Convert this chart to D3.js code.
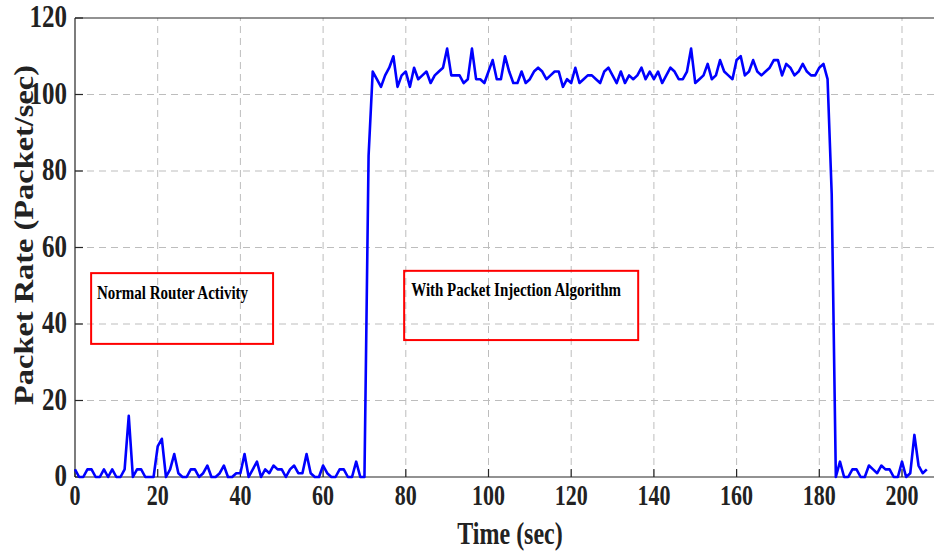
<!DOCTYPE html>
<html><head><meta charset="utf-8">
<script src="https://cdn.jsdelivr.net/npm/d3@7"></script>
<style>body{margin:0;background:#fff} svg{display:block}</style>
</head><body>
<svg id="chart" width="934" height="554"></svg>
<script>
// Packet rate per second (index = time in sec)
const rate = [
  2,0,0,2,2,0,0,2,0,2,
  0,0,2,16,0,2,2,0,0,0,
  8,10,0,2,6,1,0,0,2,2,
  0,1,3,0,0,1,3,0,0,1,
  1,6,0,2,4,0,2,1,3,2,
  2,0,2,3,1,1,6,1,0,0,
  3,1,0,0,2,2,0,0,4,0,
  0,84,106,104,102,105,107,110,102,105,
  106,102,107,104,105,106,103,105,106,107,
  112,105,105,105,103,104,112,104,104,103,
  106,109,104,104,110,106,103,103,106,103,
  104,106,107,106,104,105,106,106,102,104,
  103,107,103,104,105,105,104,103,106,107,
  105,103,106,103,105,104,105,107,104,106,
  104,106,103,105,107,106,104,104,106,112,
  103,104,105,108,104,105,109,106,105,104,
  109,110,105,106,109,106,105,106,107,109,
  109,105,108,107,105,106,108,106,105,105,
  107,108,104,74,0,4,0,0,2,2,
  0,0,3,2,1,3,2,2,0,0,
  4,0,1,11,3,1,2
];
const xTicks = [0,20,40,60,80,100,120,140,160,180,200];
const yTicks = [0,20,40,60,80,100,120];
const xTitle = "Time (sec)";
const yTitle = "Packet Rate (Packet/sec)";
const noteTexts = ["Normal Router Activity", "With Packet Injection Algorithm"];
// annotation boxes in data coordinates: [t0, t1, vLow, vHigh, textT, textV]
const noteBoxes = [[3.9, 47.9, 34.8, 53.3, 5.3, 46.6], [79.6, 136.2, 35.8, 53.9, 81.3, 47.2]];

const svg = d3.select("#chart");
const L = 75, T = 18, B = 477;
const x = d3.scaleLinear().domain([0, 208]).range([L, L + 208 * 4.135]);
const y = d3.scaleLinear().domain([0, 120]).range([B, T]);
const SY = 1.3; // vertical stretch of the text in the reference
const axisCol = "#262626";

// grid
const grid = svg.append("g").attr("stroke", "#bdbdbd").attr("stroke-width", 1).attr("stroke-dasharray", "7,5");
grid.selectAll("line.gx").data(xTicks.filter(d => d > 0)).join("line")
  .attr("x1", d => x(d)).attr("x2", d => x(d)).attr("y1", y(0)).attr("y2", y(120));
grid.selectAll("line.gy").data(yTicks.filter(d => d > 0 && d < 120)).join("line")
  .attr("x1", x(0)).attr("x2", 934).attr("y1", d => y(d)).attr("y2", d => y(d));

// axes lines
const ax = svg.append("g").attr("stroke", axisCol).attr("stroke-width", 1.2);
ax.append("line").attr("x1", x(0)).attr("x2", 934).attr("y1", y(0)).attr("y2", y(0));
ax.append("line").attr("x1", x(0)).attr("x2", 934).attr("y1", y(120)).attr("y2", y(120));
ax.append("line").attr("x1", x(0)).attr("x2", x(0)).attr("y1", y(0)).attr("y2", y(120));
ax.selectAll("line.tx").data(xTicks).join("line")
  .attr("x1", d => x(d)).attr("x2", d => x(d)).attr("y1", y(0)).attr("y2", y(0) - 8);
ax.selectAll("line.ty").data(yTicks).join("line")
  .attr("x1", x(0)).attr("x2", x(0) + 8).attr("y1", d => y(d)).attr("y2", d => y(d));

const font = "'Liberation Serif','Times New Roman',serif";
function stext(g, px, py, str, size, anchor, sy, rot) {
  const gg = g.append("g").attr("transform", `translate(${px},${py}) scale(1,${sy})` + (rot ? ` rotate(${rot})` : ""));
  gg.append("text").attr("x", 0).attr("y", 0).attr("text-anchor", anchor)
    .attr("font-family", font).attr("font-weight", "bold").attr("font-size", size)
    .attr("fill", "#222").text(str);
  return gg;
}
const labels = svg.append("g");
xTicks.forEach(d => stext(labels, x(d), 505, d, 22, "middle", SY));
yTicks.forEach(d => stext(labels, 67, y(d) + 9, d, 25, "end", 1.25));
stext(labels, 510, 544, xTitle, 24, "middle", SY);
stext(labels, 33, 235, yTitle, 27, "middle", 1.2, -90);

// data line
svg.append("path").datum(rate)
  .attr("fill", "none").attr("stroke", "#0000ff").attr("stroke-width", 2.6).attr("stroke-linejoin", "round")
  .attr("d", d3.line().x((d, i) => x(i)).y(d => y(d)));

// annotation boxes
noteBoxes.forEach((b, i) => {
  svg.append("rect").attr("x", x(b[0])).attr("y", y(b[3]))
    .attr("width", x(b[1]) - x(b[0])).attr("height", y(b[2]) - y(b[3]))
    .attr("fill", "none").attr("stroke", "#ff0000").attr("stroke-width", 2);
  const g = svg.append("g").attr("transform", `translate(${x(b[4])},${y(b[5])}) scale(1,1.2)`);
  g.append("text").attr("font-family", font).attr("font-weight", "bold").attr("font-size", 15)
    .attr("fill", "#000").text(noteTexts[i]);
});
</script>
</body></html>
